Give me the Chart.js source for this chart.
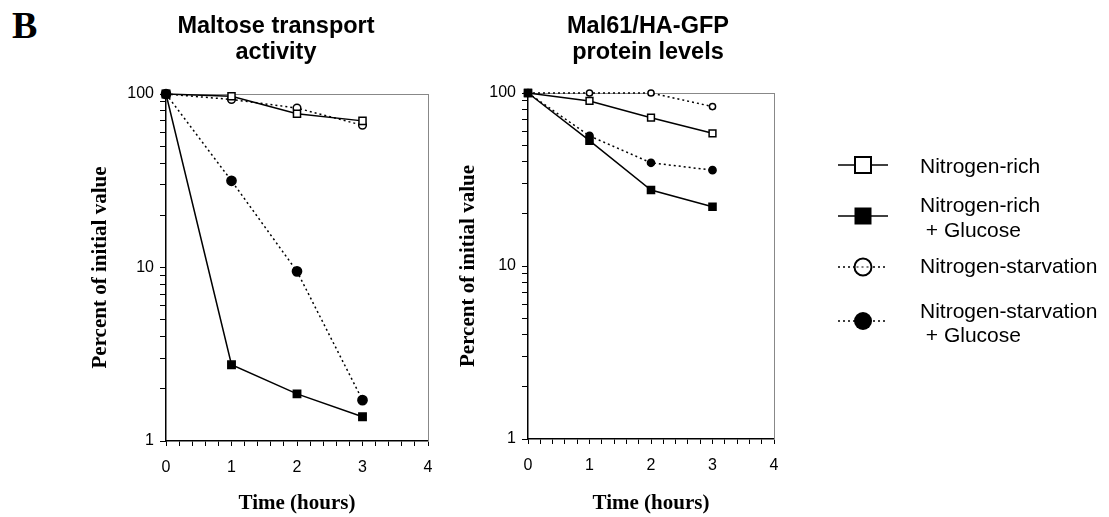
<!DOCTYPE html>
<html>
<head>
<meta charset="utf-8">
<script src="https://cdn.jsdelivr.net/npm/chart.js@4.4.1/dist/chart.umd.min.js"></script>
<style>
  body { margin: 0; background: #fff; width: 1109px; height: 517px; position: relative; overflow: hidden; }
  canvas { position: absolute; top: 0; }
  #panel { position: absolute; left: 12px; top: 6px; font: bold 38px 'Liberation Serif', 'Times New Roman', serif; line-height: 38px; }
</style>
</head>
<body>
<div id="panel">B</div>
<canvas id="transportChart" width="552" height="517" style="left:0"></canvas>
<canvas id="proteinChart" width="669" height="517" style="left:440px"></canvas>
<script>
// data (percent of initial value)
const hours = [0, 1, 2, 3];
const seriesNames = ['Nitrogen-rich', 'Nitrogen-rich + Glucose', 'Nitrogen-starvation', 'Nitrogen-starvation + Glucose'];
const legendLines = [['Nitrogen-rich'], ['Nitrogen-rich', ' + Glucose'], ['Nitrogen-starvation'], ['Nitrogen-starvation', ' + Glucose']];

const transportRich = [100, 97, 77, 70];
const transportRichGlc = [100, 2.75, 1.87, 1.38];
const transportStarv = [100, 93, 83, 66];
const transportStarvGlc = [100, 31.6, 9.5, 1.72];

const proteinRich = [100, 90, 72, 58.5];
const proteinRichGlc = [100, 53, 27.5, 22];
const proteinStarv = [100, 100, 100, 83.5];
const proteinStarvGlc = [100, 56.5, 39.5, 35.8];

const xTickLabels = [0, 1, 2, 3, 4];
const yTickLabels = [1, 10, 100];
const yTickMarks = [1, 2, 3, 4, 5, 6, 7, 8, 9, 10, 20, 30, 40, 50, 60, 70, 80, 90, 100];

const SANS = "'Liberation Sans', Arial, Helvetica, sans-serif";
const SERIF = "'Liberation Serif', 'Times New Roman', serif";

// line / marker look of each series
const looks = [
  { dash: [], style: 'rect', fill: '#fff' },
  { dash: [], style: 'rect', fill: '#000' },
  { dash: [2, 3], style: 'circle', fill: '#fff' },
  { dash: [2, 3], style: 'circle', fill: '#000' }
];

function isWhole(v) { return Math.abs(v - Math.round(v)) < 1e-6; }

function makeDatasets(seriesList, radii, orders) {
  return seriesList.map((vals, i) => ({
    label: seriesNames[i],
    data: hours.map((h, j) => ({ x: h, y: vals[j] })),
    xAxisID: 'x',
    yAxisID: 'y',
    order: orders[i],
    borderColor: '#000',
    borderWidth: 1.5,
    borderDash: looks[i].dash,
    pointStyle: looks[i].style,
    pointRadius: radii[i],
    pointBackgroundColor: looks[i].fill,
    pointBorderColor: '#000',
    pointBorderWidth: 1.5,
    tension: 0,
    fill: false,
    clip: false
  }));
}

function makeScales(yWidth, yTitlePad, rightWidth, xHeight) {
  const tickFont = { family: SANS, size: 16 };
  const axisTitleFont = { family: SERIF, size: 21, weight: 'bold' };
  const frame = { display: true, color: '#888', width: 1, dash: [1, 1] };
  return {
    x: {
      type: 'linear', min: 0, max: 4, position: 'bottom',
      ticks: {
        stepSize: 0.2, autoSkip: false, maxRotation: 0, padding: 12, color: '#000', font: tickFont,
        callback: v => (isWhole(v) && xTickLabels.includes(Math.round(v))) ? String(Math.round(v)) : ''
      },
      grid: { drawOnChartArea: false, drawTicks: true, tickLength: 5, color: '#000', lineWidth: 1 },
      border: { display: true, color: '#000', width: 1.5 },
      title: { display: true, text: 'Time (hours)', color: '#000', font: axisTitleFont, padding: { top: 0, bottom: 1 } },
      afterFit: s => { s.height = xHeight; }
    },
    y: {
      type: 'logarithmic', min: 1, max: 100, position: 'left',
      afterBuildTicks: s => { s.ticks = yTickMarks.map(v => ({ value: v })); },
      ticks: {
        autoSkip: false, padding: 6, color: '#000', font: tickFont,
        callback: v => yTickLabels.includes(v) ? String(v) : ''
      },
      grid: { drawOnChartArea: false, drawTicks: true, tickLength: 6, color: '#000', lineWidth: 1 },
      border: { display: true, color: '#000', width: 1.5 },
      title: { display: true, text: 'Percent of initial value', color: '#000', font: axisTitleFont, padding: { top: yTitlePad, bottom: 0 } },
      afterFit: s => { s.width = yWidth; }
    },
    xTop: {
      type: 'linear', min: 0, max: 4, position: 'top',
      ticks: { display: false }, grid: { display: false }, border: frame,
      afterFit: s => { s.height = 0; }
    },
    yRight: {
      type: 'logarithmic', min: 1, max: 100, position: 'right',
      ticks: { display: false }, grid: { display: false }, border: frame,
      afterFit: s => { s.width = rightWidth; }
    }
  };
}

function titleOpts(lines, padBottom) {
  return {
    display: true, text: lines, color: '#000',
    font: { family: SANS, size: 23.5, weight: 'bold', lineHeight: 1.1 },
    padding: { top: 14, bottom: padBottom }
  };
}

// legend drawn at the right of the protein panel
const sideLegend = {
  id: 'sideLegend',
  afterDraw(chart) {
    const ctx = chart.ctx;
    const symX = 423, half = 25, textX = 480;
    const symY = [165, 216, 267, 321];
    const textY = [[173], [212, 237], [273], [318, 342]];
    const sizes = [8, 8.5, 8.5, 9];
    ctx.save();
    chart.data.datasets.forEach((ds, i) => {
      const y = symY[i];
      ctx.strokeStyle = '#000';
      ctx.lineWidth = 1.5;
      ctx.setLineDash(ds.borderDash);
      ctx.beginPath();
      ctx.moveTo(symX - half, y);
      ctx.lineTo(symX + half, y);
      ctx.stroke();
      ctx.setLineDash([]);
      ctx.fillStyle = ds.pointBackgroundColor;
      ctx.lineWidth = 2;
      ctx.beginPath();
      if (ds.pointStyle === 'rect') {
        ctx.rect(symX - sizes[i], y - sizes[i], sizes[i] * 2, sizes[i] * 2);
      } else {
        ctx.arc(symX, y, sizes[i], 0, Math.PI * 2);
      }
      if (ds.pointBackgroundColor === '#fff') {
        ctx.fill();
        ctx.stroke();
        if (ds.borderDash.length) {
          ctx.setLineDash(ds.borderDash);
          ctx.lineWidth = 1.2;
          ctx.beginPath();
          ctx.moveTo(symX - sizes[i] + 2, y);
          ctx.lineTo(symX + sizes[i] - 2, y);
          ctx.stroke();
          ctx.setLineDash([]);
        }
      } else {
        ctx.fill();
      }
      ctx.fillStyle = '#000';
      ctx.font = '21px ' + SANS;
      ctx.textBaseline = 'alphabetic';
      ctx.textAlign = 'left';
      legendLines[i].forEach((t, k) => ctx.fillText(t, textX, textY[i][k]));
    });
    ctx.restore();
  }
};

const common = {
  responsive: false,
  animation: false,
  events: []
};

new Chart(document.getElementById('transportChart').getContext('2d'), {
  type: 'line',
  data: { datasets: makeDatasets([transportRich, transportRichGlc, transportStarv, transportStarvGlc], [5, 5.2, 3.8, 4.6], [1, 2, 3, 0]) },
  options: Object.assign({}, common, {
    layout: { padding: 0 },
    scales: makeScales(166, 88.4, 124, 76),
    plugins: {
      legend: { display: false },
      tooltip: { enabled: false },
      title: titleOpts(['Maltose transport', 'activity'], 28.3)
    }
  })
});

new Chart(document.getElementById('proteinChart').getContext('2d'), {
  type: 'line',
  data: { datasets: makeDatasets([proteinRich, proteinRichGlc, proteinStarv, proteinStarvGlc], [4.8, 5, 3.1, 3.6], [1, 0, 2, 3]) },
  options: Object.assign({}, common, {
    layout: { padding: { left: 0, top: 0, bottom: 0, right: 253 } },
    scales: makeScales(88, 16.4, 82, 78),
    plugins: {
      legend: { display: false },
      tooltip: { enabled: false },
      title: titleOpts(['Mal61/HA-GFP', 'protein levels'], 27.3)
    }
  }),
  plugins: [sideLegend]
});
</script>
</body>
</html>
